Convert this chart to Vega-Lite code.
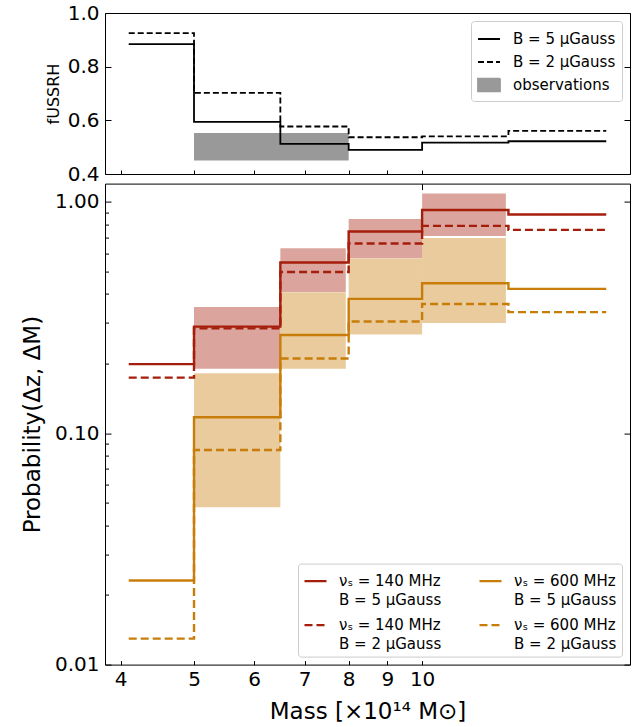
{
  "$schema": "https://vega.github.io/schema/vega-lite/v6.json",
  "padding": {"left": 20, "top": 2, "right": 2, "bottom": 2},
  "spacing": 9.6,
  "bounds": "flush",
  "datasets": {
    "topLines": [
      {"series": "B5", "mass": 4.1, "f": 0.884},
      {"series": "B5", "mass": 5, "f": 0.594},
      {"series": "B5", "mass": 6.5, "f": 0.512},
      {"series": "B5", "mass": 8, "f": 0.49},
      {"series": "B5", "mass": 10, "f": 0.517},
      {"series": "B5", "mass": 13, "f": 0.522},
      {"series": "B5", "mass": 17.5, "f": 0.522},
      {"series": "B2", "mass": 4.1, "f": 0.925},
      {"series": "B2", "mass": 5, "f": 0.702},
      {"series": "B2", "mass": 6.5, "f": 0.577},
      {"series": "B2", "mass": 8, "f": 0.537},
      {"series": "B2", "mass": 10, "f": 0.54},
      {"series": "B2", "mass": 13, "f": 0.561},
      {"series": "B2", "mass": 17.5, "f": 0.561}
    ],
    "topObs": [
      {"series": "obs", "x": 5, "x2": 8, "lo": 0.45, "hi": 0.553}
    ],
    "lines": [
      {"series": "140_5", "mass": 4.1, "p": 0.199},
      {"series": "140_5", "mass": 5, "p": 0.289},
      {"series": "140_5", "mass": 6.5, "p": 0.547},
      {"series": "140_5", "mass": 8, "p": 0.745},
      {"series": "140_5", "mass": 10, "p": 0.923},
      {"series": "140_5", "mass": 13, "p": 0.882},
      {"series": "140_5", "mass": 17.5, "p": 0.882},
      {"series": "140_2", "mass": 4.1, "p": 0.174},
      {"series": "140_2", "mass": 5, "p": 0.284},
      {"series": "140_2", "mass": 6.5, "p": 0.498},
      {"series": "140_2", "mass": 8, "p": 0.661},
      {"series": "140_2", "mass": 10, "p": 0.788},
      {"series": "140_2", "mass": 13, "p": 0.757},
      {"series": "140_2", "mass": 17.5, "p": 0.757},
      {"series": "600_5", "mass": 4.1, "p": 0.0231},
      {"series": "600_5", "mass": 5, "p": 0.1173},
      {"series": "600_5", "mass": 6.5, "p": 0.266},
      {"series": "600_5", "mass": 8, "p": 0.381},
      {"series": "600_5", "mass": 10, "p": 0.445},
      {"series": "600_5", "mass": 13, "p": 0.421},
      {"series": "600_5", "mass": 17.5, "p": 0.421},
      {"series": "600_2", "mass": 4.1, "p": 0.01295},
      {"series": "600_2", "mass": 5, "p": 0.0847},
      {"series": "600_2", "mass": 6.5, "p": 0.2104},
      {"series": "600_2", "mass": 8, "p": 0.304},
      {"series": "600_2", "mass": 10, "p": 0.362},
      {"series": "600_2", "mass": 13, "p": 0.334},
      {"series": "600_2", "mass": 17.5, "p": 0.334}
    ],
    "red": [
      {"x": 5, "x2": 6.5, "lo": 0.19, "hi": 0.351},
      {"x": 6.5, "x2": 7.93, "lo": 0.408, "hi": 0.631},
      {"x": 8, "x2": 10, "lo": 0.571, "hi": 0.844},
      {"x": 10, "x2": 12.9, "lo": 0.713, "hi": 1.087}
    ],
    "orange": [
      {"x": 5, "x2": 6.5, "lo": 0.0479, "hi": 0.1817},
      {"x": 6.5, "x2": 7.93, "lo": 0.19, "hi": 0.407},
      {"x": 8, "x2": 10, "lo": 0.267, "hi": 0.569},
      {"x": 10, "x2": 12.9, "lo": 0.3, "hi": 0.699}
    ]
  },
  "resolve": {"scale": {"color": "independent", "strokeDash": "independent", "x": "independent", "y": "independent"}},
  "vconcat": [
    {
      "width": 525,
      "height": 161,
      "layer": [
        {
          "data": {"name": "topObs"},
          "mark": {"type": "rect"},
          "encoding": {
            "x": {"field": "x", "type": "quantitative", "scale": {"type": "log", "domain": [3.815, 18.81], "nice": false, "zero": false},
                  "axis": {"orient": "bottom", "values": [4, 5, 6, 7, 8, 9, 10], "labels": false, "tickSize": -4, "title": null}},
            "x2": {"field": "x2"},
            "y": {"field": "lo", "type": "quantitative", "scale": {"domain": [0.4, 1.0], "nice": false, "zero": false},
                  "axis": {"orient": "left", "values": [0.4, 0.6, 0.8, 1.0], "format": ".1f", "ticks": false, "labelPadding": 6, "title": "fUSSRH", "titleFontSize": 16, "titlePadding": 6}},
            "y2": {"field": "hi"},
            "color": {"field": "series", "type": "nominal",
                      "scale": {"domain": ["B5", "B2", "obs"], "range": ["black", "black", "#999999"]},
                      "legend": {
                        "title": null, "orient": "top-right", "offset": 8, "padding": 6, "rowPadding": 3,
                        "labelOffset": 12, "symbolSize": 484,
                        "labelExpr": "datum.value == 'B5' ? 'B = 5 μGauss' : datum.value == 'B2' ? 'B = 2 μGauss' : 'observations'",
                        "encode": {"symbols": {"update": {
                          "shape": {"signal": "datum.value == 'obs' ? 'M-1,-0.58H1V0.58H-1Z' : 'stroke'"},
                          "fill": {"signal": "datum.value == 'obs' ? '#999999' : 'transparent'"},
                          "stroke": {"signal": "datum.value == 'obs' ? 'transparent' : 'black'"},
                          "strokeDash": {"signal": "datum.value == 'B2' ? [6, 3] : [1, 0]"},
                          "strokeWidth": {"value": 1.8},
                          "opacity": {"value": 1}
                        }}}
                      }}
          }
        },
        {
          "data": {"name": "topLines"},
          "mark": {"type": "line", "interpolate": "step-after", "strokeWidth": 1.8},
          "encoding": {
            "x": {"field": "mass", "type": "quantitative", "axis": null},
            "y": {"field": "f", "type": "quantitative", "axis": {"orient": "left", "values": [0.4, 0.6, 0.8, 1.0], "labels": false, "tickSize": -6, "title": null}},
            "color": {"field": "series", "type": "nominal"},
            "strokeDash": {"field": "series", "type": "nominal", "scale": {"domain": ["B5", "B2"], "range": [[1, 0], [6, 3]]}, "legend": null}
          }
        },
        {
          "data": {"name": "topLines"},
          "mark": {"type": "point", "opacity": 0},
          "encoding": {
            "x": {"field": "mass", "type": "quantitative", "axis": null},
            "y": {"field": "f", "type": "quantitative", "axis": {"orient": "right", "values": [0.4, 0.6, 0.8, 1.0], "labels": false, "tickSize": -6, "title": null}}
          }
        }
      ],
      "resolve": {"axis": {"x": "independent", "y": "independent"}}
    },
    {
      "width": 525,
      "height": 481,
      "layer": [
        {
          "data": {"name": "red"},
          "mark": {"type": "rect", "color": "#a51d0b", "opacity": 0.4},
          "encoding": {
            "x": {"field": "x", "type": "quantitative", "scale": {"type": "log", "domain": [3.815, 18.81], "nice": false, "zero": false},
                  "axis": {"orient": "bottom", "values": [4, 5, 6, 7, 8, 9, 10], "format": "d", "ticks": false, "labelPadding": 5, "title": "Mass [×10¹⁴ M⊙]", "titlePadding": 11}},
            "x2": {"field": "x2"},
            "y": {"field": "lo", "type": "quantitative", "scale": {"type": "log", "domain": [0.01, 1.2], "nice": false, "zero": false},
                  "axis": {"orient": "left", "values": [0.01, 0.1, 1], "format": ".2f", "ticks": false, "labelPadding": 6, "title": "Probability(Δz, ΔM)", "titlePadding": 10}},
            "y2": {"field": "hi"}
          }
        },
        {
          "data": {"name": "orange"},
          "mark": {"type": "rect", "color": "#c87d0a", "opacity": 0.4},
          "encoding": {
            "x": {"field": "x", "type": "quantitative", "axis": {"orient": "bottom", "values": [4, 5, 6, 7, 8, 9, 10], "labels": false, "tickSize": -4, "title": null}},
            "x2": {"field": "x2"},
            "y": {"field": "lo", "type": "quantitative", "axis": {"orient": "left", "values": [0.01, 0.1, 1], "labels": false, "tickSize": -6, "title": null}},
            "y2": {"field": "hi"}
          }
        },
        {
          "data": {"name": "lines"},
          "mark": {"type": "line", "interpolate": "step-after", "strokeWidth": 2.4},
          "encoding": {
            "x": {"field": "mass", "type": "quantitative", "axis": {"orient": "top", "values": [10], "labels": false, "tickSize": -6, "title": null}},
            "y": {"field": "p", "type": "quantitative", "axis": {"orient": "left", "values": [0.02, 0.03, 0.04, 0.05, 0.06, 0.07, 0.08, 0.09, 0.2, 0.3, 0.4, 0.5, 0.6, 0.7, 0.8, 0.9], "labels": false, "tickSize": -3.5, "title": null}},
            "color": {"field": "series", "type": "nominal",
                      "scale": {"domain": ["140_5", "140_2", "600_5", "600_2"], "range": ["#a51d0b", "#a51d0b", "#c87d0a", "#c87d0a"]},
                      "legend": {
                        "title": null, "orient": "bottom-right", "offset": 8, "columns": 2, "columnPadding": 32, "rowPadding": 5, "padding": 5,
                        "labelOffset": 11, "symbolSize": 484, "symbolStrokeWidth": 2.4,
                        "labelExpr": "datum.value == '140_5' ? ['νₛ = 140 MHz', 'B = 5 μGauss'] : datum.value == '600_5' ? ['νₛ = 600 MHz', 'B = 5 μGauss'] : datum.value == '140_2' ? ['νₛ = 140 MHz', 'B = 2 μGauss'] : ['νₛ = 600 MHz', 'B = 2 μGauss']",
                        "encode": {
                          "symbols": {"update": {"strokeDash": {"signal": "datum.value == '140_2' || datum.value == '600_2' ? [8, 4] : [1, 0]"}}},
                          "labels": {"update": {"lineHeight": {"value": 18.5}}}
                        }
                      }},
            "strokeDash": {"field": "series", "type": "nominal", "scale": {"domain": ["140_5", "140_2", "600_5", "600_2"], "range": [[1, 0], [8, 4], [1, 0], [8, 4]]}, "legend": null}
          }
        },
        {
          "data": {"name": "lines"},
          "mark": {"type": "point", "opacity": 0},
          "encoding": {
            "x": {"field": "mass", "type": "quantitative", "axis": null},
            "y": {"field": "p", "type": "quantitative", "axis": {"orient": "right", "values": [0.01, 0.1, 1], "labels": false, "tickSize": -6, "title": null}}
          }
        }
      ],
      "resolve": {"axis": {"x": "independent", "y": "independent"}}
    }
  ],
  "config": {
    "font": "DejaVu Sans",
    "view": {"stroke": "black", "strokeWidth": 1},
    "axis": {
      "domain": false, "grid": false, "tickColor": "black", "tickWidth": 1,
      "labelColor": "black", "labelFont": "DejaVu Sans", "labelFontSize": 20,
      "labelFlush": false, "labelOverlap": false,
      "titleColor": "black", "titleFont": "DejaVu Sans", "titleFontSize": 23, "titleFontWeight": "normal",
      "minExtent": 0
    },
    "legend": {
      "labelFont": "DejaVu Sans", "labelFontSize": 15, "labelColor": "black",
      "strokeColor": "#cccccc", "fillColor": "white", "cornerRadius": 3
    }
  }
}
